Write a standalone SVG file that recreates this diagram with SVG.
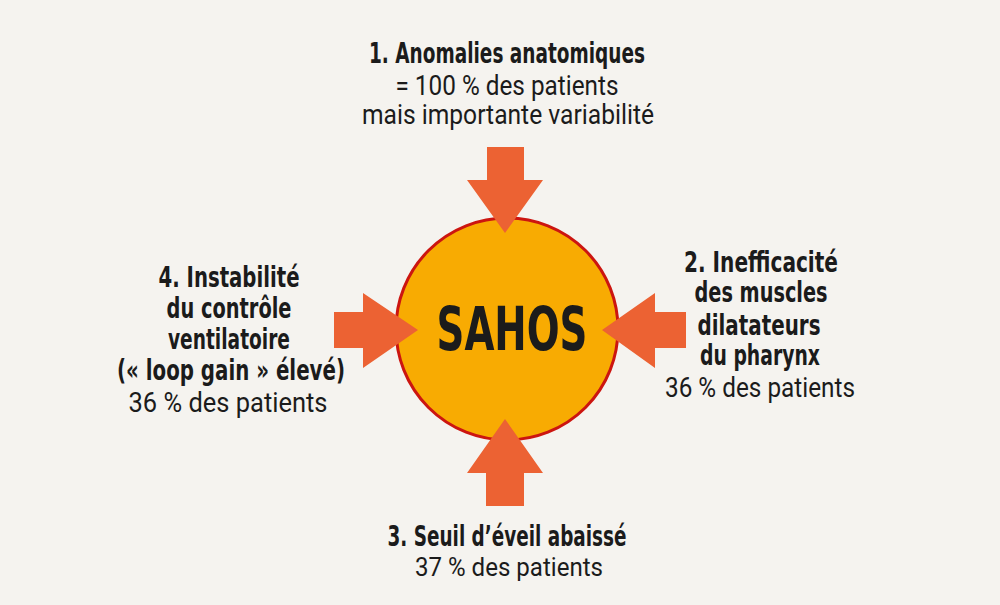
<svg xmlns="http://www.w3.org/2000/svg" width="1000" height="605" viewBox="0 0 1000 605">
<style>
.b{font-family:"DejaVu Sans Condensed","DejaVu Sans",sans-serif;font-weight:bold;font-size:28.5px;fill:#1b1b1b;text-anchor:middle}
.r{font-family:Roboto,"Liberation Sans",sans-serif;font-size:27px;fill:#1b1b1b;text-anchor:middle}
.arrow{fill:#ec6233}
</style>
<rect width="1000" height="605" fill="#f5f3ef"/>
<g id="center">
<circle cx="507" cy="329" r="111" fill="#f8ab02" stroke="#cc1510" stroke-width="3"/>
<text x="512" y="350" style="font-family:'DejaVu Sans Condensed','DejaVu Sans',sans-serif;font-weight:bold;font-size:60px;fill:#1b1b1b;text-anchor:middle" textLength="151" lengthAdjust="spacingAndGlyphs">SAHOS</text>
</g>
<g id="connectors">
<polygon class="arrow" points="487,147 524,147 524,180 543,180 505,233 467,180 487,180"/>
<polygon class="arrow" points="334,312 363,312 363,293 418,330 363,368 363,348 334,348"/>
<polygon class="arrow" points="686,312 655,312 655,293 602,330 655,368 655,348 686,348"/>
<polygon class="arrow" points="486,506 524,506 524,473 543,473 505,419 467,473 486,473"/>
</g>
<g id="n1">
<text class="b" x="507" y="63" textLength="276" lengthAdjust="spacingAndGlyphs">1. Anomalies anatomiques</text>
<text class="r" x="507" y="95" textLength="223" lengthAdjust="spacingAndGlyphs">= 100 % des patients</text>
<text class="r" x="508" y="124" textLength="292" lengthAdjust="spacingAndGlyphs">mais importante variabilité</text>
</g>
<g id="n2">
<text class="b" x="761" y="272" textLength="154" lengthAdjust="spacingAndGlyphs">2. Inefficacité</text>
<text class="b" x="761" y="302" textLength="133" lengthAdjust="spacingAndGlyphs">des muscles</text>
<text class="b" x="759" y="335" textLength="123" lengthAdjust="spacingAndGlyphs">dilatateurs</text>
<text class="b" x="760" y="365" textLength="120" lengthAdjust="spacingAndGlyphs">du pharynx</text>
<text class="r" x="760" y="397" textLength="190" lengthAdjust="spacingAndGlyphs">36 % des patients</text>
</g>
<g id="n3">
<text class="b" x="507" y="546" textLength="239" lengthAdjust="spacingAndGlyphs">3. Seuil d’éveil abaissé</text>
<text class="r" x="509" y="576" style="font-size:26px" textLength="188" lengthAdjust="spacingAndGlyphs">37 % des patients</text>
</g>
<g id="n4">
<text class="b" x="229" y="287" textLength="141" lengthAdjust="spacingAndGlyphs">4. Instabilité</text>
<text class="b" x="229" y="318" textLength="125" lengthAdjust="spacingAndGlyphs">du contrôle</text>
<text class="b" x="229" y="349" textLength="122" lengthAdjust="spacingAndGlyphs">ventilatoire</text>
<text class="b" x="231" y="380" textLength="228" lengthAdjust="spacingAndGlyphs">(« loop gain » élevé)</text>
<text class="r" x="228" y="412" textLength="199" lengthAdjust="spacingAndGlyphs">36 % des patients</text>
</g>
</svg>
